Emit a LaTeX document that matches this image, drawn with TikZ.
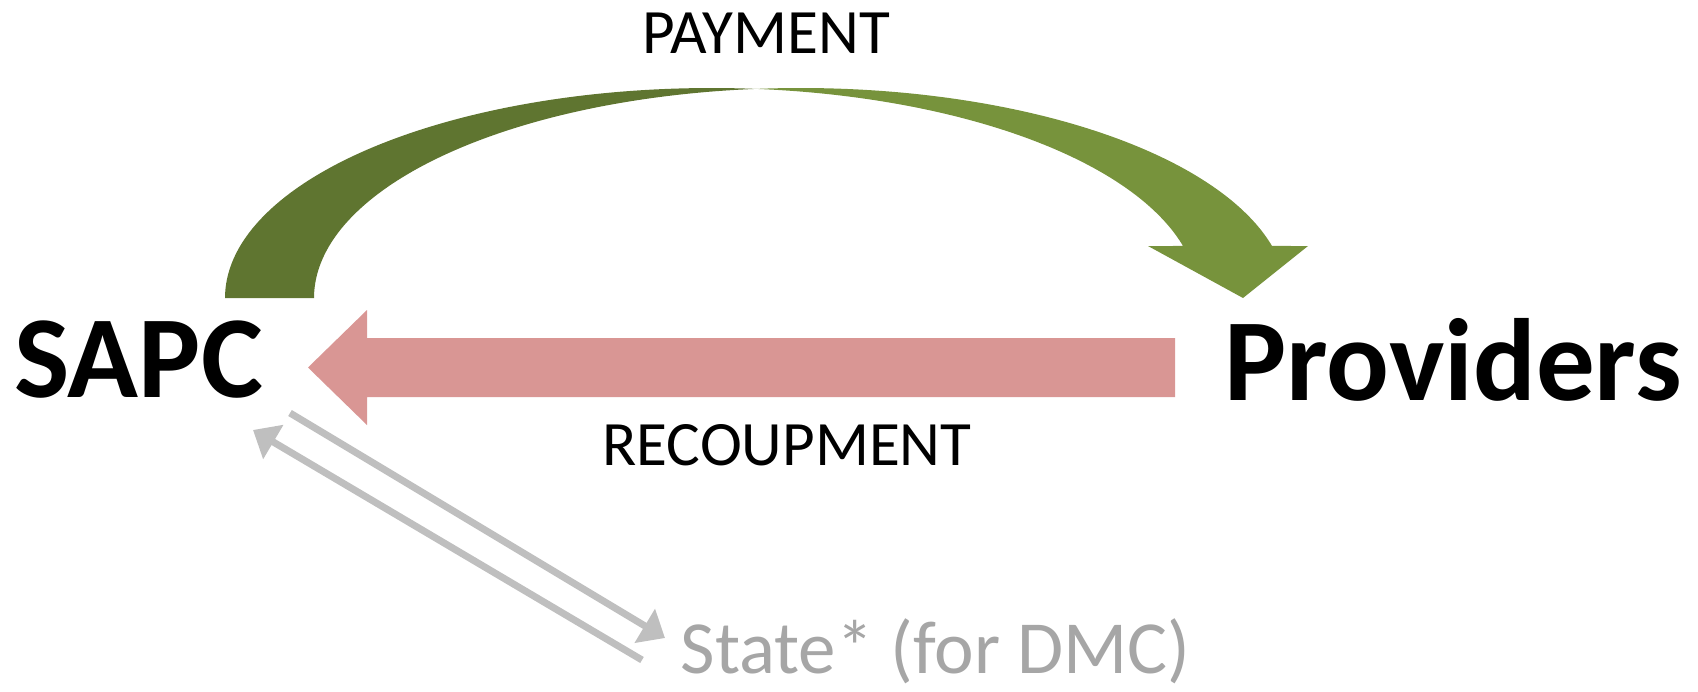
\documentclass[tikz,border=0pt]{standalone}
\usepackage{fontspec}
\setmainfont{Carlito}
\usetikzlibrary{arrows.meta}
\definecolor{gdark}{HTML}{5F7530}
\definecolor{glight}{HTML}{77933C}
\definecolor{pinkarrow}{HTML}{D99694}
\definecolor{grayarrow}{HTML}{BFBFBF}
\definecolor{graytext}{HTML}{A6A6A6}
\begin{document}
\begin{tikzpicture}[x=0.5pt,y=-0.5pt,
  bigtext/.style={font=\fontsize{58.5}{60}\selectfont\bfseries, inner sep=0pt, anchor=base},
  lbl/.style={font=\fontsize{31.6}{33}\selectfont, inner sep=0pt, anchor=base},
  grayarr/.style={draw=grayarrow, line width=3.5pt, -{Triangle[length=11.8pt,width=19.2pt]}}]
\useasboundingbox (0,0) rectangle (1698,691);
% curved payment arrow: back (dark) band
\fill[gdark] plot[domain=180:84.75,samples=90] ({711.6+486.6*cos(\x)},{298-210*sin(\x)})
  -- plot[domain=95.25:180,samples=90] ({800.6+486.6*cos(\x)},{298-210*sin(\x)}) -- cycle;
% front (light) band with head
\fill[glight] plot[domain=95.25:14.34,samples=90] ({800.6+486.6*cos(\x)},{298-210*sin(\x)})
  -- (1308,246) -- (1243,298) -- (1148,246)
  -- plot[domain=14.34:84.75,samples=90] ({711.6+486.6*cos(\x)},{298-210*sin(\x)}) -- cycle;
% recoupment block arrow
\fill[pinkarrow] (1175,338) -- (367,338) -- (367,310) -- (308,367.5) -- (367,425) -- (367,397) -- (1175,397) -- cycle;
% gray arrows
\coordinate (g1s) at (290,413);
\coordinate (g1e) at (665,638);
\coordinate (g2s) at (642,660);
\coordinate (g2e) at (253,430);
\draw[grayarr] (g1s) -- (g1e);
\draw[grayarr] (g2s) -- (g2e);
% texts
\node[bigtext] (sapc) at (138.5,397) {SAPC};
\node[bigtext] (prov) at (1453,400) {Providers};
\node[lbl] (pay) at (766.5,53) {PAYMENT};
\node[lbl] (recoup) at (787,465) {RECOUPMENT};
\node[lbl, font=\fontsize{37.5}{39}\selectfont, text=graytext] (state) at (935.5,673) {State* (for DMC)};
\end{tikzpicture}
\end{document}
